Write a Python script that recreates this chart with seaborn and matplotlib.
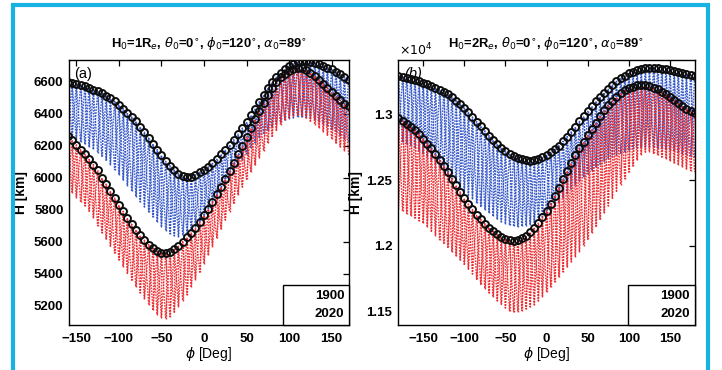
import matplotlib
matplotlib.use('Agg')
import matplotlib.pyplot as plt
from matplotlib.lines import Line2D
from matplotlib.patches import Rectangle
import seaborn as sns
import numpy as np

sns.set_theme(style='white')
plt.rcParams['font.family'] = ['Liberation Sans', 'DejaVu Sans']
plt.rcParams['mathtext.fontset'] = 'dejavusans'
plt.rcParams.update({'text.color': 'black', 'axes.labelcolor': 'black'})

phi_a = np.arange(-160, 171, 5)
phi_b = np.arange(-180, 181, 5)

# panel (a): H0 = 1 Re
a_1900_top = [6598, 6592, 6585, 6578, 6571, 6562, 6550, 6540, 6528, 6512, 6495, 6476, 6456, 6432,
              6406, 6380, 6352, 6318, 6284, 6248, 6212, 6175, 6140, 6102, 6075, 6048, 6025, 6008,
              6002, 6005, 6018, 6034, 6050, 6068, 6090, 6115, 6145, 6175, 6205, 6237, 6272, 6310,
              6350, 6390, 6432, 6475, 6518, 6558, 6596, 6628, 6655, 6678, 6696, 6710, 6720, 6727,
              6728, 6725, 6718, 6710, 6700, 6688, 6676, 6662, 6646, 6630, 6612]
a_1900_bot = [6262, 6250, 6236, 6222, 6208, 6194, 6176, 6155, 6134, 6108, 6080, 6050, 6018, 5985,
              5950, 5916, 5882, 5850, 5818, 5786, 5755, 5722, 5692, 5668, 5650, 5638, 5632, 5638,
              5652, 5670, 5695, 5728, 5765, 5805, 5845, 5885, 5922, 5960, 5997, 6033, 6072, 6110,
              6148, 6185, 6218, 6248, 6272, 6295, 6315, 6333, 6350, 6360, 6368, 6374, 6378, 6379,
              6376, 6370, 6360, 6350, 6336, 6320, 6302, 6285, 6262, 6240, 6216]
a_2020_top = [6262, 6235, 6205, 6175, 6148, 6115, 6082, 6045, 6000, 5960, 5918, 5873, 5830, 5790,
              5750, 5710, 5674, 5640, 5610, 5582, 5558, 5540, 5530, 5530, 5538, 5552, 5572, 5600,
              5628, 5655, 5684, 5722, 5765, 5805, 5850, 5895, 5940, 5990, 6040, 6092, 6145, 6200,
              6255, 6310, 6365, 6418, 6468, 6515, 6560, 6597, 6628, 6650, 6666, 6678, 6685, 6683,
              6672, 6655, 6635, 6612, 6588, 6562, 6535, 6508, 6484, 6462, 6445]
a_2020_bot = [5930, 5905, 5876, 5848, 5824, 5790, 5748, 5700, 5656, 5614, 5572, 5529, 5486, 5444,
              5402, 5360, 5319, 5280, 5242, 5205, 5172, 5145, 5124, 5120, 5133, 5160, 5195, 5232,
              5270, 5315, 5362, 5410, 5462, 5515, 5570, 5625, 5680, 5735, 5788, 5840, 5892, 5942,
              5990, 6035, 6080, 6125, 6168, 6215, 6258, 6295, 6330, 6358, 6375, 6385, 6390, 6388,
              6372, 6352, 6332, 6310, 6288, 6265, 6240, 6216, 6192, 6168, 6143]

# panel (b): H0 = 2 Re
b_1900_top = [13288, 13283, 13277, 13270, 13263, 13252, 13240, 13227, 13212, 13197, 13182, 13166,
              13150, 13128, 13103, 13076, 13048, 13014, 12979, 12944, 12910, 12874, 12838, 12804,
              12771, 12745, 12720, 12700, 12682, 12668, 12656, 12649, 12647, 12650, 12660, 12672,
              12688, 12710, 12734, 12762, 12795, 12830, 12866, 12905, 12945, 12984, 13022, 13060,
              13098, 13133, 13165, 13194, 13222, 13250, 13272, 13292, 13310, 13323, 13335, 13345,
              13351, 13354, 13354, 13351, 13347, 13340, 13333, 13326, 13319, 13312, 13305, 13298, 13292]
b_1900_bot = [12805, 12790, 12775, 12760, 12742, 12722, 12700, 12678, 12654, 12626, 12598, 12570,
              12540, 12508, 12477, 12445, 12414, 12384, 12355, 12327, 12300, 12274, 12249, 12224,
              12200, 12182, 12166, 12155, 12148, 12146, 12148, 12152, 12160, 12175, 12195, 12220,
              12246, 12272, 12300, 12332, 12368, 12400, 12432, 12462, 12492, 12520, 12546, 12570,
              12596, 12620, 12642, 12660, 12676, 12690, 12703, 12715, 12728, 12737, 12744, 12748,
              12751, 12751, 12748, 12743, 12738, 12733, 12726, 12718, 12710, 12700, 12690, 12678, 12666]
b_2020_top = [12970, 12950, 12928, 12905, 12880, 12848, 12813, 12777, 12740, 12697, 12653, 12607,
              12560, 12510, 12460, 12410, 12360, 12318, 12276, 12236, 12200, 12168, 12138, 12110,
              12086, 12065, 12050, 12042, 12040, 12046, 12060, 12078, 12102, 12134, 12172, 12218,
              12268, 12320, 12380, 12440, 12505, 12570, 12630, 12690, 12742, 12790, 12840, 12888,
              12936, 12984, 13030, 13070, 13102, 13130, 13160, 13182, 13198, 13210, 13220, 13225,
              13222, 13215, 13203, 13188, 13170, 13150, 13128, 13106, 13084, 13062, 13042, 13024, 13008]
b_2020_bot = [12280, 12262, 12245, 12228, 12210, 12190, 12170, 12142, 12110, 12078, 12046, 12018,
              11988, 11956, 11924, 11891, 11858, 11822, 11786, 11745, 11706, 11674, 11643, 11612,
              11582, 11555, 11528, 11505, 11498, 11500, 11508, 11520, 11536, 11553, 11580, 11612,
              11648, 11688, 11726, 11764, 11802, 11840, 11878, 11916, 11955, 12002, 12050, 12098,
              12148, 12200, 12252, 12304, 12360, 12415, 12465, 12510, 12560, 12606, 12650, 12690,
              12712, 12716, 12702, 12688, 12674, 12660, 12645, 12630, 12614, 12598, 12584, 12572, 12562]

years = ['1900', '2020']
titles = [r'H$_0$=1R$_e$, $\theta_0$=0$^{\circ}$, $\phi_0$=120$^{\circ}$, $\alpha_0$=89$^{\circ}$',
          r'H$_0$=2R$_e$, $\theta_0$=0$^{\circ}$, $\phi_0$=120$^{\circ}$, $\alpha_0$=89$^{\circ}$']
BLUE, RED = '#2b4fc4', '#ea2328'

fig = plt.figure(figsize=(7.22, 3.70), dpi=100)
fig.patch.set_facecolor('white')
ax_a = fig.add_axes([69/722, 1 - 325/370, 280/722, 265.5/370])
ax_b = fig.add_axes([398/722, 1 - 325/370, 296.5/722, 265.5/370])


def draw_band(ax, phi, top, bot, color):
    top, bot = np.asarray(top), np.asarray(bot)
    even = np.arange(len(phi)) % 2 == 0
    # two crossing zig-zags between the upper and lower turning heights
    for y in (np.where(even, top, bot), np.where(even, bot, top)):
        sns.lineplot(x=phi, y=y, sort=False, estimator=None, color=color,
                     linestyle=(0, (1.2, 0.9)), linewidth=1.0, alpha=0.9, ax=ax)
    ax.vlines(phi, bot, top, colors=color, linestyles=(0, (1.2, 0.9)), linewidth=1.0, alpha=0.9)


def draw_edge(ax, phi, top):
    sns.lineplot(x=phi, y=top, sort=False, estimator=None, linestyle='', marker='o',
                 markersize=5.0, markerfacecolor='none', markeredgecolor='#0d0d0d',
                 markeredgewidth=1.4, ax=ax, zorder=5)


panels = [(ax_a, phi_a, a_1900_top, a_1900_bot, a_2020_top, a_2020_bot),
          (ax_b, phi_b, b_1900_top, b_1900_bot, b_2020_top, b_2020_bot)]
for ax, phi, t19, b19, t20, b20 in panels:
    draw_band(ax, phi, t19, b19, BLUE)
    draw_band(ax, phi, t20, b20, RED)
    draw_edge(ax, phi, t19)
    draw_edge(ax, phi, t20)

ax_a.set_xlim(-158.6, 170.4)
ax_a.set_ylim(5080, 6738)
ax_a.set_yticks(np.arange(5200, 6601, 200))
ax_b.set_xlim(-180.5, 179.8)
ax_b.set_ylim(11398, 13416)
ax_b.set_yticks([11500, 12000, 12500, 13000])
ax_b.yaxis.set_major_formatter(plt.FuncFormatter(lambda v, _: f'{v/1e4:g}'))
ax_b.text(0.005, 1.005, r'$\times10^4$', transform=ax_b.transAxes, ha='left', va='bottom', fontsize=9)

for ax, title, tag, style, ylx in [(ax_a, titles[0], '(a)', 'normal', -0.146),
                                   (ax_b, titles[1], '(b)', 'italic', -0.118)]:
    ax.set_xticks(np.arange(-150, 151, 50))
    ax.tick_params(direction='in', top=True, right=True, length=4, width=0.9,
                   labelsize=9.5, colors='black', pad=4)
    ax.tick_params(axis='x', pad=6)
    for lab in ax.get_xticklabels() + ax.get_yticklabels():
        lab.set_fontweight('bold')
    for sp in ax.spines.values():
        sp.set_color('black')
        sp.set_linewidth(1.0)
    ax.set_title(title, fontsize=9.4, fontweight='bold', pad=9, color='black')
    ax.set_xlabel(r'$\phi$ [Deg]', fontsize=10, labelpad=0)
    ax.set_ylabel('H [km]', fontsize=10, fontweight='bold')
    ax.yaxis.set_label_coords(ylx, 0.5)
    ax.text(0.02, 0.97, tag, transform=ax.transAxes, ha='left', va='top', fontsize=10.5, style=style)
    blank = [Line2D([], [], linestyle='none') for _ in years]
    leg = ax.legend(blank, years, loc='lower right', borderaxespad=0, fancybox=False,
                    framealpha=1, edgecolor='black', handlelength=1.7, handletextpad=0.4,
                    borderpad=0.35, labelspacing=0.45, prop={'size': 9.5, 'weight': 'bold'})
    leg.get_frame().set_linewidth(1.0)
    leg.set_zorder(10)
    for t in leg.get_texts():
        t.set_color('black')

# light-blue frame around the whole figure
fig.add_artist(Rectangle((13/722, -0.05), 695/722, 1.05 - 4.5/370, transform=fig.transFigure,
                         fill=False, edgecolor='#17b2e2', linewidth=3.0))

fig.savefig('out.png', dpi=100, facecolor='white')
plt.close(fig)
